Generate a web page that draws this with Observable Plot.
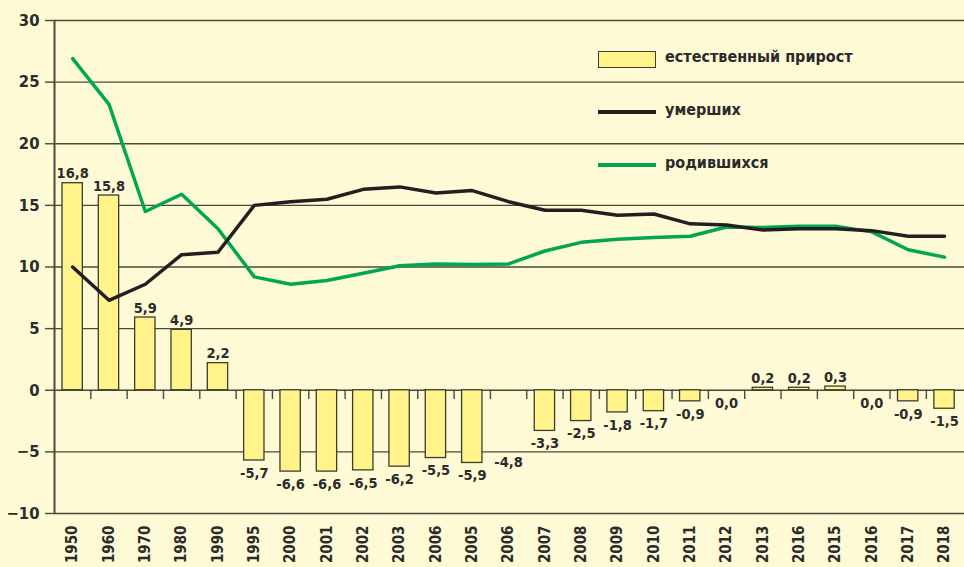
<!DOCTYPE html>
<html><head><meta charset="utf-8">
<script src="https://cdn.jsdelivr.net/npm/d3@7"></script>
<script src="https://cdn.jsdelivr.net/npm/@observablehq/plot@0.6"></script>
<style>
html,body{margin:0;padding:0;background:#fefad6;}
#wrap{position:relative;width:964px;height:567px;overflow:hidden;background:#fefad6;}
.lg{position:absolute;font-family:"DejaVu Sans Condensed",sans-serif;font-weight:bold;font-size:16px;color:#2b2b2b;line-height:1;}
.sw{position:absolute;box-sizing:border-box;}
</style></head><body>
<div id="wrap"></div>
<script>
const years = ["1950","1960","1970","1980","1990","1995","2000","2001","2002","2003","2006","2005","2006","2007","2008","2009","2010","2011","2012","2013","2016","2015","2016","2017","2018"];
const natural = [16.8,15.8,5.9,4.9,2.2,-5.7,-6.6,-6.6,-6.5,-6.2,-5.5,-5.9,-4.8,-3.3,-2.5,-1.8,-1.7,-0.9,0.0,0.2,0.2,0.3,0.0,-0.9,-1.5];
const deaths = [10.0,7.3,8.6,11.0,11.2,15.0,15.3,15.5,16.3,16.5,16.0,16.2,15.3,14.6,14.6,14.2,14.3,13.5,13.4,13.0,13.1,13.1,12.95,12.5,12.5];
const births = [26.9,23.2,14.5,15.9,13.1,9.2,8.6,8.9,9.5,10.1,10.25,10.2,10.25,11.3,12.0,12.25,12.4,12.5,13.25,13.2,13.3,13.3,12.85,11.4,10.8];
const hiddenBars = [12];
const yTicks = [-10,-5,0,5,10,15,20,25,30];
const legendItems = ["естественный прирост","умерших","родившихся"];

const data = years.map((y,i)=>({i, year:y, nat:natural[i], deaths:deaths[i], births:births[i]}));
const fmt = d => d.nat.toFixed(1).replace(".", ",");
const ink = "#2b2b2b";
const gridC = "#4a4a3c";
const font = "'DejaVu Sans Condensed',sans-serif";

const chart = Plot.plot({
  width: 964, height: 567,
  marginLeft: 54, marginRight: 0, marginTop: 20, marginBottom: 54,
  style: {background: "transparent", fontFamily: font, color: ink},
  x: {type: "linear", domain: [-0.5, 24.55], axis: null},
  y: {domain: [-10, 30], axis: null},
  marks: [
    Plot.ruleY(yTicks, {stroke: gridC, strokeWidth: 1.4}),
    Plot.ruleX([-0.5], {y1: -10, y2: 30, stroke: gridC, strokeWidth: 2}),
    Plot.ruleX(data.slice(0, -1), {x: d => d.i + 0.5, y1: 0, y2: -0.75, stroke: gridC, strokeWidth: 1.4}),
    Plot.rectY(data.filter(d => !hiddenBars.includes(d.i)), {x1: d => d.i - 0.28, x2: d => d.i + 0.28, y1: 0, y2: "nat", fill: "#fff38a", stroke: "#3d3d30", strokeWidth: 1.3}),
    Plot.line(data, {x: "i", y: "births", stroke: "#00a651", strokeWidth: 3.5}),
    Plot.line(data, {x: "i", y: "deaths", stroke: "#231f20", strokeWidth: 3.5}),
    Plot.text(data.filter(d => d.nat > 0), {x: "i", y: "nat", text: fmt, lineAnchor: "bottom", dy: -5, fontSize: 14.5, fontWeight: "bold", fill: ink}),
    Plot.text(data.filter(d => d.nat <= 0), {x: "i", y: "nat", text: fmt, lineAnchor: "top", dy: 7, fontSize: 14.5, fontWeight: "bold", fill: ink}),
    Plot.axisY(yTicks, {anchor: "left", tickSize: 9, tickPadding: 6, fontSize: 16.5, fontWeight: "bold", stroke: gridC, strokeWidth: 1.4, fill: ink, label: null}),
    Plot.axisX(data.map(d => d.i), {anchor: "bottom", tickFormat: i => years[i], tickRotate: -90, tickSize: 0, tickPadding: 12, fontSize: 15, fontWeight: "bold", fill: ink, label: null})
  ]
});
const wrap = document.getElementById("wrap");
wrap.appendChild(chart);

// legend
const rows = [
  {t: legendItems[0], y: 59, type: "box"},
  {t: legendItems[1], y: 112, type: "line", c: "#231f20"},
  {t: legendItems[2], y: 165, type: "line", c: "#00a651"}
];
rows.forEach(r => {
  const sw = document.createElement("div");
  sw.className = "sw";
  if (r.type === "box") {
    Object.assign(sw.style, {left: "598px", top: (r.y - 8) + "px", width: "58px", height: "17px", background: "#fff38a", border: "1.3px solid #3d3d30"});
  } else {
    Object.assign(sw.style, {left: "598px", top: (r.y - 2) + "px", width: "58px", height: "4px", background: r.c});
  }
  wrap.appendChild(sw);
  const tx = document.createElement("div");
  tx.className = "lg";
  tx.textContent = r.t;
  Object.assign(tx.style, {left: "665px", top: (r.y - 10) + "px"});
  wrap.appendChild(tx);
});
</script>
</body></html>
